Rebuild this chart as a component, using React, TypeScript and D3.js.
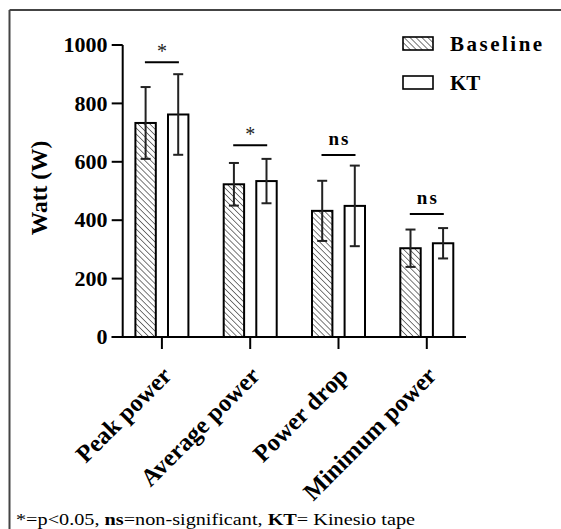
import * as d3 from "d3";

const categories = ["Peak power", "Average power", "Power drop", "Minimum power"];
const seriesNames = ["Baseline", "KT"];
const baselineMean = [733, 523, 432, 304];
const baselineSd = [123, 73, 103, 64];
const ktMean = [762, 534, 449, 321];
const ktSd = [138, 76, 138, 52];
const sigLabels = ["*", "*", "ns", "ns"];
const sigLevel = [941, 657, 623, 421];
const yTicks = [0, 200, 400, 600, 800, 1000];

const W = 561;
const H = 529;
const serif = "Liberation Serif, Times New Roman, serif";

export default function App() {
  const y = d3.scaleLinear().domain([0, 1000]).range([337, 45]);
  const x = d3.scalePoint<string>().domain(categories).range([122.7, 466]).padding(0.444);
  const sub = d3.scaleBand<string>().domain(seriesNames).range([-26.5, 26.5]).paddingInner(0.374);

  const rows = categories.map((c, i) => ({
    cat: c,
    bars: [
      { name: "Baseline", mean: baselineMean[i], sd: baselineSd[i] },
      { name: "KT", mean: ktMean[i], sd: ktSd[i] },
    ],
  }));

  return (
    <svg width={W} height={H} style={{ position: "absolute", left: 0, top: 0, background: "#fff" }}>
      <defs>
        <pattern id="hatch" patternUnits="userSpaceOnUse" width={4.2} height={8} patternTransform="rotate(-45)">
          <rect width={4.2} height={8} fill="#fff" />
          <line x1={0} y1={0} x2={0} y2={8} stroke="#333" strokeWidth={1.3} />
        </pattern>
      </defs>

      {/* frame */}
      <line x1={9.5} y1={10} x2={W} y2={10} stroke="#444" strokeWidth={2} />
      <line x1={9.5} y1={10} x2={9.5} y2={H} stroke="#444" strokeWidth={2} />

      <g style={{ fontFamily: serif }}>
        {/* y axis */}
        <line x1={122.7} x2={122.7} y1={y(1000)} y2={y(0)} stroke="#000" strokeWidth={2} />
        {yTicks.map((t) => (
          <g key={t} transform={`translate(0,${y(t)})`}>
            <line x1={111.7} x2={122.7} stroke="#000" strokeWidth={2} />
            <text x={107.5} dy="0.33em" textAnchor="end" fontWeight="bold" fontSize={22}>
              {t}
            </text>
          </g>
        ))}
        <text transform={`translate(47,188) rotate(-90)`} textAnchor="middle" fontWeight="bold" fontSize={23.5}>
          Watt (W)
        </text>

        {/* bars */}
        {rows.map((r) => (
          <g key={r.cat} transform={`translate(${x(r.cat)},0)`}>
            {r.bars.map((b) => {
              const bx = sub(b.name)!;
              const bw = sub.bandwidth();
              const cx = bx + bw / 2;
              return (
                <g key={b.name}>
                  <rect
                    x={bx}
                    y={y(b.mean)}
                    width={bw}
                    height={y(0) - y(b.mean)}
                    fill={b.name === "Baseline" ? "url(#hatch)" : "#fff"}
                    stroke="#000"
                    strokeWidth={2}
                  />
                  <line x1={cx} x2={cx} y1={y(b.mean + b.sd)} y2={y(b.mean - b.sd)} stroke="#222" strokeWidth={2} />
                  <line x1={cx - 5} x2={cx + 5} y1={y(b.mean + b.sd)} y2={y(b.mean + b.sd)} stroke="#222" strokeWidth={2} />
                  <line x1={cx - 5} x2={cx + 5} y1={y(b.mean - b.sd)} y2={y(b.mean - b.sd)} stroke="#222" strokeWidth={2} />
                </g>
              );
            })}
          </g>
        ))}

        {/* significance */}
        {categories.map((c, i) => (
          <g key={c} transform={`translate(${x(c)},${y(sigLevel[i])})`}>
            <line x1={-17} x2={17} stroke="#000" strokeWidth={2} />
            {sigLabels[i] === "*" ? (
              <text y={-4} textAnchor="middle" fontSize={20} fill="#222">
                *
              </text>
            ) : (
              <text x={1} y={-10} textAnchor="middle" fontWeight="bold" fontSize={19} letterSpacing={2}>
                {sigLabels[i]}
              </text>
            )}
          </g>
        ))}

        {/* x axis */}
        <line x1={111.7} x2={466} y1={y(0)} y2={y(0)} stroke="#000" strokeWidth={2} />
        {categories.map((c) => (
          <g key={c} transform={`translate(${x(c)},${y(0)})`}>
            <line y1={0} y2={12} stroke="#000" strokeWidth={2} />
            <text transform="translate(11,40) rotate(-45)" textAnchor="end" fontWeight="bold" fontSize={24.5}>
              {c}
            </text>
          </g>
        ))}

        {/* legend */}
        {seriesNames.map((s, i) => (
          <g key={s} transform={`translate(403,${37 + i * 39})`}>
            <rect
              width={30}
              height={13}
              fill={s === "Baseline" ? "url(#hatch)" : "#fff"}
              stroke="#000"
              strokeWidth={1.6}
            />
            <text x={47} y={13.5} fontWeight="bold" fontSize={21} letterSpacing={s === "Baseline" ? 2.5 : 0}>
              {s}
            </text>
          </g>
        ))}

        {/* footnote */}
        <text x={16} y={525} fontSize={17} textLength={399} lengthAdjust="spacingAndGlyphs">
          *=p&lt;0.05, <tspan fontWeight="bold">ns</tspan>=non-significant, <tspan fontWeight="bold">KT</tspan>= Kinesio tape
        </text>
      </g>
    </svg>
  );
}
